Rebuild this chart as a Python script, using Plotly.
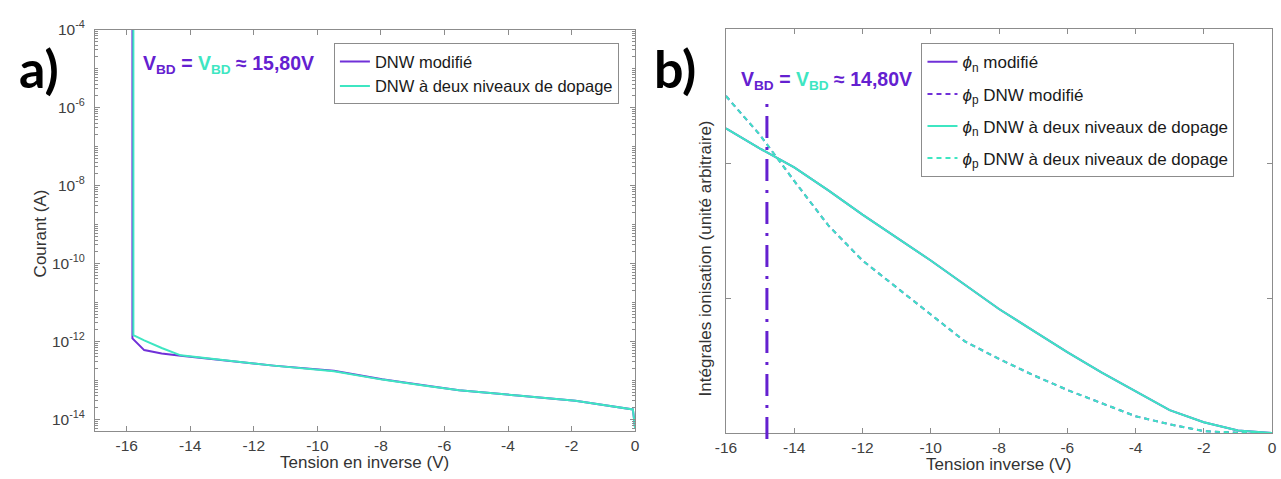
import plotly.graph_objects as go

W, H = 1281, 479

# ---------------- data: panel a) current vs reverse voltage ----------------
va_mod = [-15.82, -15.82, -15.45, -14.9, -14.3, -12.8, -11.38, -9.48, -7.96, -6.6, -5.54, -3.7, -1.88, -0.07, 0.0]
ia_mod = [1e-4, 1.2e-12, 6.0e-13, 4.9e-13, 4.27e-13, 3.2e-13, 2.4e-13, 1.78e-13, 1.07e-13, 7.4e-14, 5.6e-14, 4.1e-14, 3.0e-14, 1.8e-14, 6.0e-15]
va_two = [-15.79, -15.79, -15.45, -14.9, -14.3, -12.8, -11.38, -9.48, -7.96, -6.6, -5.54, -3.7, -1.88, -0.07, 0.0]
ia_two = [1e-4, 1.45e-12, 1.07e-12, 6.8e-13, 4.4e-13, 3.2e-13, 2.4e-13, 1.72e-13, 1.05e-13, 7.3e-14, 5.6e-14, 4.1e-14, 3.0e-14, 1.8e-14, 6.0e-15]

# ---------------- data: panel b) ionisation integrals ----------------
vb = [-16, -15, -14, -13, -12, -11, -10, -9, -8, -7, -6, -5, -4, -3, -2, -1, 0]
phin_mod = [2.26, 2.11, 1.97, 1.80, 1.62, 1.45, 1.28, 1.10, 0.92, 0.76, 0.60, 0.45, 0.31, 0.17, 0.08, 0.02, 0.0]
phip_mod = [2.50, 2.21, 1.87, 1.54, 1.28, 1.08, 0.88, 0.68, 0.55, 0.43, 0.32, 0.22, 0.125, 0.065, 0.015, 0.002, 0.0]
phin_two = [2.26, 2.11, 1.97, 1.80, 1.62, 1.45, 1.28, 1.10, 0.92, 0.76, 0.60, 0.45, 0.31, 0.17, 0.08, 0.02, 0.0]
phip_two = [2.50, 2.21, 1.87, 1.54, 1.28, 1.08, 0.88, 0.68, 0.55, 0.43, 0.32, 0.22, 0.125, 0.065, 0.015, 0.002, 0.0]

v_bd_b = -14.8

xticks = [-16, -14, -12, -10, -8, -6, -4, -2, 0]
xticks_text = ["-16", "-14", "-12", "-10", "-8", "-6", "-4", "-2", "0"]
yticks_a = [1e-14, 1e-12, 1e-10, 1e-8, 1e-6, 1e-4]
yticks_a_text = ["10<sup>-14</sup>", "10<sup>-12</sup>", "10<sup>-10</sup>", "10<sup>-8</sup>", "10<sup>-6</sup>", "10<sup>-4</sup>"]

PURPLE = "#7030d8"
CYAN = "#3ee6c2"
TXT_PURPLE = "#6420d0"
AX = "#8c8c8c"
FONT = "Liberation Sans, Arial, sans-serif"

fig = go.Figure()

fig.add_trace(go.Scatter(x=va_mod, y=ia_mod, mode="lines", name="DNW modifié",
                         line=dict(color=PURPLE, width=2), xaxis="x", yaxis="y", legend="legend"))
fig.add_trace(go.Scatter(x=va_two, y=ia_two, mode="lines", name="DNW à deux niveaux de dopage",
                         line=dict(color=CYAN, width=2), xaxis="x", yaxis="y", legend="legend"))

fig.add_trace(go.Scatter(x=vb, y=phin_mod, mode="lines", name="<i>ϕ</i><sub>n</sub> modifié", legendgroup="g1",
                         line=dict(color=PURPLE, width=2), xaxis="x2", yaxis="y2", legend="legend2"))
fig.add_trace(go.Scatter(x=vb, y=phip_mod, mode="lines", name="<i>ϕ</i><sub>p</sub> DNW modifié", legendgroup="g2",
                         line=dict(color=PURPLE, width=2, dash="5px,4px"), xaxis="x2", yaxis="y2", legend="legend2"))
fig.add_trace(go.Scatter(x=vb, y=phin_two, mode="lines", name="<i>ϕ</i><sub>n</sub> DNW à deux niveaux de dopage",
                         legendgroup="g3",
                         line=dict(color=CYAN, width=2), xaxis="x2", yaxis="y2", legend="legend2"))
fig.add_trace(go.Scatter(x=vb, y=phip_two, mode="lines", name="<i>ϕ</i><sub>p</sub> DNW à deux niveaux de dopage",
                         legendgroup="g4",
                         line=dict(color=CYAN, width=2, dash="5px,4px"), xaxis="x2", yaxis="y2", legend="legend2"))

axis_common = dict(showgrid=False, zeroline=False, showline=True, linecolor=AX, linewidth=1,
                   mirror="ticks", ticks="inside", ticklen=5, tickcolor=AX,
                   tickfont=dict(family=FONT, size=15.5, color="#404040"))

fig.update_layout(
    width=W, height=H,
    margin=dict(l=0, r=0, t=0, b=0),
    paper_bgcolor="white", plot_bgcolor="white",
    font=dict(family=FONT, color="#333333"),
    xaxis=dict(domain=[85 / W, 632 / W], range=[-17, 0], tickvals=xticks, ticktext=xticks_text,
               anchor="y", **axis_common),
    yaxis=dict(domain=[1 - 430 / H, 1 - 19 / H], type="log", range=[-14.3, -4], tickvals=yticks_a,
               ticktext=yticks_a_text, anchor="x", ticklabelstandoff=6,
               minor=dict(ticks="inside", ticklen=3, tickcolor=AX, dtick="D1", showgrid=False),
               **axis_common),
    xaxis2=dict(domain=[724 / W, 1277 / W], range=[-16, 0], tickvals=xticks, ticktext=xticks_text,
                anchor="y2", **axis_common),
    yaxis2=dict(domain=[1 - 432 / H, 1 - 18 / H], range=[0, 3], tickvals=[1, 2], showticklabels=False,
                anchor="x2", **axis_common),
    legend=dict(x=327 / W, y=1 - 33 / H, xanchor="left", yanchor="top", bgcolor="white",
                bordercolor=AX, borderwidth=1, itemwidth=30,
                font=dict(family=FONT, size=16.5, color="#1a1a1a"), tracegroupgap=0),
    legend2=dict(x=922 / W, y=1 - 33 / H, xanchor="left", yanchor="top", bgcolor="white",
                 bordercolor=AX, borderwidth=1, itemwidth=30,
                 font=dict(family=FONT, size=17, color="#1a1a1a"), tracegroupgap=7),
    showlegend=True,
)

fig.add_shape(type="line", xref="x2", yref="paper", x0=v_bd_b, x1=v_bd_b,
              y0=1 - 438 / H, y1=1 - 95 / H,
              line=dict(color=TXT_PURPLE, width=3, dash="22px,9px,3px,9px"))

def vbd_text(val):
    return ('<b><span style="color:%s">V<sub>BD</sub> = </span>'
            '<span style="color:%s">V<sub>BD</sub></span>'
            '<span style="color:%s"> ≈ %s</span></b>') % (TXT_PURPLE, CYAN, TXT_PURPLE, val)

ann = [
    dict(text="<b>a)</b>", x=28 / W, y=1 - 58 / H, font=dict(family="Lato, sans-serif", size=52, color="black")),
    dict(text="<b>b)</b>", x=672 / W, y=1 - 58 / H, font=dict(family="Lato, sans-serif", size=52, color="black")),
    dict(text=vbd_text("15,80V"), x=132 / W, y=1 - 55 / H, xanchor="left",
         font=dict(family=FONT, size=19.5)),
    dict(text=vbd_text("14,80V"), x=737 / W, y=1 - 71 / H, xanchor="left",
         font=dict(family=FONT, size=19.5)),
    dict(text="Courant (A)", x=30 / W, y=1 - 228 / H, textangle=-90, font=dict(family=FONT, size=17, color="#333")),
    dict(text="Tension en inverse (V)", x=358 / W, y=1 - 462 / H, font=dict(family=FONT, size=17, color="#333")),
    dict(text="Tension inverse (V)", x=1000 / W, y=1 - 464 / H, font=dict(family=FONT, size=17, color="#333")),
    dict(text="Intégrales ionisation (unité arbitraire)", x=703 / W, y=1 - 253 / H, textangle=-90,
         font=dict(family=FONT, size=17, color="#333")),
]
for a in ann:
    a.setdefault("xanchor", "center")
    fig.add_annotation(xref="paper", yref="paper", showarrow=False, yanchor="middle", **a)

fig.write_html("out.html", config={"displayModeBar": False},
               post_script="document.body.style.margin='0';document.body.style.overflow='hidden';")
